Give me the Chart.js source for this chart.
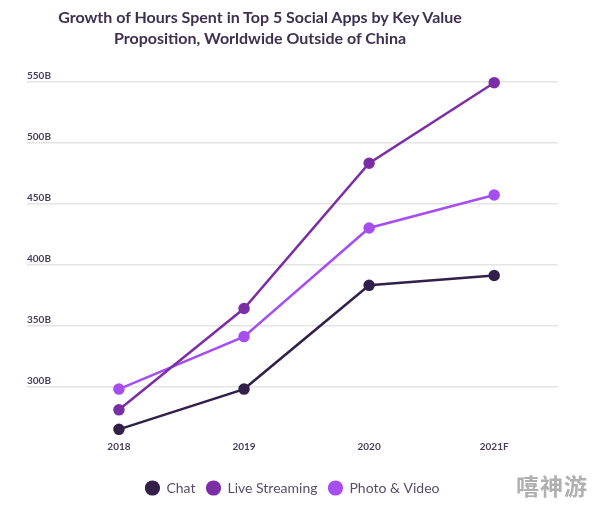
<!DOCTYPE html>
<html>
<head>
<meta charset="utf-8">
<script src="https://cdn.jsdelivr.net/npm/chart.js@4.4.1/dist/chart.umd.min.js"></script>
<style>
    html, body {
        margin: 0;
        padding: 0;
        background: #ffffff;
    }

    .chart-wrap {
        position: relative;
        width: 594px;
        height: 507px;
    }

    .chart-title {
        position: absolute;
        left: 40px;
        top: 6px;
        width: 440px;
        text-align: center;
        font-family: "Lato", sans-serif;
        font-weight: 700;
        font-size: 16px;
        line-height: 21px;
        color: #3f3050;
    }

    .watermark {
        position: absolute;
        right: 6px;
        bottom: 9px;
        font-family: "Noto Sans CJK SC", sans-serif;
        font-weight: 700;
        font-size: 23px;
        line-height: 26px;
        color: #b0b0b0;
        letter-spacing: 1px;
    }
</style>
</head>
<body>
<div class="chart-wrap">
    <canvas id="growthChart" width="594" height="507"></canvas>
    <div class="chart-title">Growth of Hours Spent in Top 5 Social Apps by Key Value<br>Proposition, Worldwide Outside of China</div>
    <div class="watermark">嘻神游</div>
</div>
<script>
const years = ["2018", "2019", "2020", "2021F"];
const yTicks = [300, 350, 400, 450, 500, 550];

const chatHours = [265, 298, 383, 391];
const liveStreamingHours = [281, 364, 483, 549];
const photoVideoHours = [298, 341, 430, 457];

const labelColor = "#4a3d5c";

function toPoints(values) {
    return values.map((value, index) => ({ x: index, y: value }));
}

function makeSeries(label, values, color) {
    return {
        label,
        data: toPoints(values),
        borderColor: color,
        backgroundColor: color,
        pointBackgroundColor: color,
        pointBorderColor: color,
        borderWidth: 2.5,
        pointRadius: 4.5,
        pointHoverRadius: 5,
        tension: 0
    };
}

document.addEventListener("DOMContentLoaded", () => {
    const context = document.getElementById("growthChart").getContext("2d");

    new Chart(context, {
        type: "line",
        data: {
            datasets: [
                makeSeries("Chat", chatHours, "#33204a"),
                makeSeries("Live Streaming", liveStreamingHours, "#7b2ea6"),
                makeSeries("Photo & Video", photoVideoHours, "#a64ef0")
            ]
        },
        options: {
            responsive: false,
            animation: false,
            layout: {
                padding: { left: 27, right: 36, top: 75, bottom: 2 }
            },
            plugins: {
                legend: {
                    position: "bottom",
                    labels: {
                        usePointStyle: true,
                        pointStyle: "circle",
                        boxWidth: 26,
                        boxHeight: 9,
                        padding: 11,
                        color: "#5a4d6a",
                        font: { family: "Lato", size: 14 }
                    }
                },
                tooltip: {
                    enabled: false
                }
            },
            scales: {
                x: {
                    type: "linear",
                    min: -0.735,
                    max: 3.51,
                    afterBuildTicks(scale) {
                        scale.ticks = years.map((_, index) => ({ value: index }));
                    },
                    afterFit(scale) {
                        scale.height += 15;
                    },
                    grid: { display: false, drawTicks: false },
                    border: { display: false },
                    ticks: {
                        padding: 2,
                        color: labelColor,
                        font: { family: "Lato", size: 10, weight: "bold" },
                        callback(value) {
                            return years[value];
                        }
                    }
                },
                y: {
                    min: 257.1,
                    max: 555.3,
                    afterBuildTicks(scale) {
                        scale.ticks = yTicks.map((value) => ({ value }));
                    },
                    grid: {
                        color: "#e4e4e4",
                        lineWidth: 1.5,
                        drawTicks: false
                    },
                    border: { display: false },
                    ticks: {
                        mirror: true,
                        padding: 0,
                        labelOffset: -6,
                        color: labelColor,
                        font: { family: "Lato", size: 10, weight: "bold" },
                        callback(value) {
                            return `${value}B`;
                        }
                    }
                }
            }
        }
    });
});
</script>
</body>
</html>
